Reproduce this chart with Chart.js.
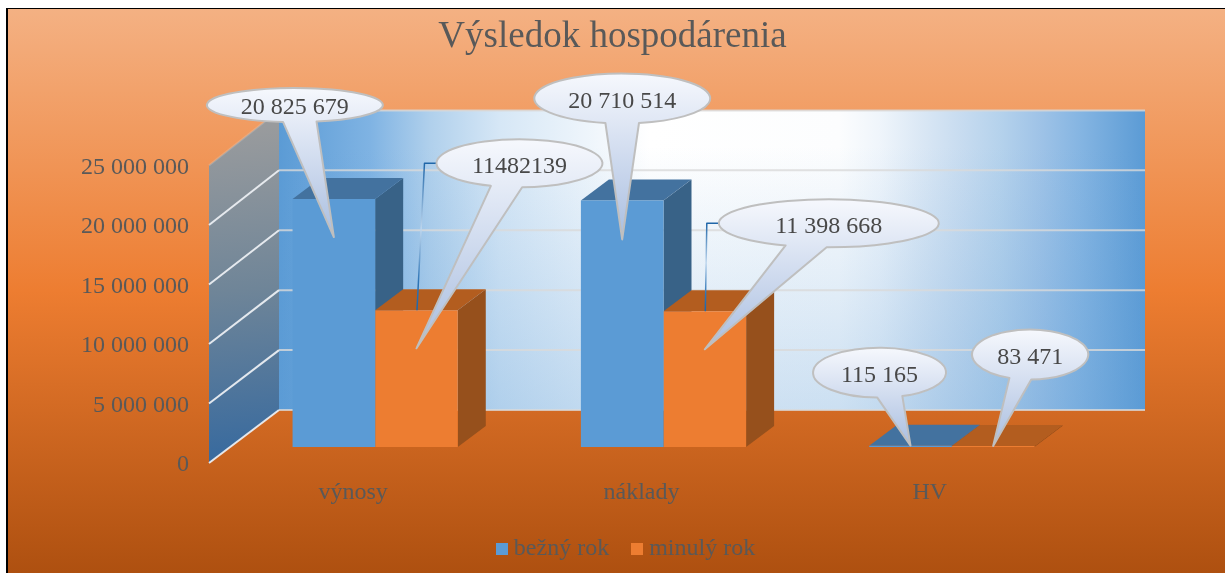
<!DOCTYPE html>
<html lang="sk">
<head>
<meta charset="utf-8">
<title>Výsledok hospodárenia</title>
<style>html,body{margin:0;padding:0;background:#fff;overflow:hidden}canvas{display:block}</style>
<script src="https://cdn.jsdelivr.net/npm/chart.js@4/dist/chart.umd.min.js"></script>
</head>
<body>
<canvas id="c" width="1225" height="573"></canvas>
<script>
const chartTitle = 'Výsledok hospodárenia';
const categories = ['výnosy', 'náklady', 'HV'];
const seriesNames = ['bežný rok', 'minulý rok'];
const bezny = [20825679, 20710514, 115165];
const minuly = [11482139, 11398668, 83471];
const axisMax = 25000000;
const axisStep = 5000000;

/* styling and layout, in pixels */
const serif = '"Liberation Serif", "Times New Roman", serif';
const textGrey = '#595959';
const FRONT = ['#5B9BD5', '#ED7D31'];
const TOP = ['#43729F', '#B35D1F'];
const SIDE = ['#386287', '#96501C'];
const BAR_SHIFT = {x: 22, y: -16};
const BAR_DEPTH = {x: 28, y: -21};
const WALL_DEPTH = {x: 70, y: -53};
const WALL_SCALE = 300 / 298;
const WALL_RIGHT = 1145;
/* callout position relative to the top centre of its bar: one row per series, one cell per category */
const calloutLayout = [
  [{dx: -39, dy: -94, rx: 88, ry: 17, drop: 38}, {dx: 0, dy: -102, rx: 88, ry: 25, drop: 39}, {dx: -31, dy: -73, rx: 66.5, ry: 25, drop: 0}],
  [{dx: 103, dy: -147, rx: 83, ry: 24, drop: 38, leader: true, plain: true}, {dx: 124, dy: -88, rx: 110, ry: 24, drop: 38, leader: true}, {dx: 37, dy: -91.5, rx: 58, ry: 25, drop: 0}]
];

const spaced = v => String(v).replace(/\B(?=(\d{3})+(?!\d))/g, ' ');

function swatch(color) {
  const s = document.createElement('canvas');
  s.width = 12; s.height = 12;
  const g = s.getContext('2d');
  g.fillStyle = color; g.fillRect(0, 0, 12, 12);
  return s;
}

function poly(ctx, pts, fill) {
  ctx.beginPath();
  pts.forEach((p, i) => i ? ctx.lineTo(p[0], p[1]) : ctx.moveTo(p[0], p[1]));
  ctx.closePath();
  ctx.fillStyle = fill;
  ctx.fill();
}

function drawWalls(chart) {
  const {ctx, chartArea: a} = chart;
  const yS = chart.scales.y;
  const L = a.left, dX = WALL_DEPTH.x, dY = WALL_DEPTH.y;
  const y0 = yS.getPixelForValue(0), yT = yS.getPixelForValue(axisMax);
  const bx = L + dX, bot = y0 + dY;
  const backY = y => bot - (y0 - y) * WALL_SCALE;
  const top = backY(yT);

  // back wall
  const w = WALL_RIGHT - bx;
  const h = ctx.createLinearGradient(bx, 0, WALL_RIGHT, 0);
  [[0, '#5B9BD5'], [91, '#7FB3E3'], [151, '#B0D0EC'], [221, '#D6E7F6'], [371, '#FFFFFF'], [560, '#FCFDFE'], [601, '#EFF5FB'], [641, '#DBE8F5'], [681, '#C8DCF0'], [721, '#B5D2EC'], [761, '#9FC3E7'], [801, '#85B5E2'], [866, '#5B9BD5']]
    .forEach(s => h.addColorStop(s[0] / w, s[1]));
  ctx.fillStyle = h;
  ctx.fillRect(bx, top, w, bot - top);
  const v = ctx.createLinearGradient(0, top, 0, bot);
  v.addColorStop(0, 'rgba(91,155,213,0)');
  v.addColorStop(0.12, 'rgba(91,155,213,0)');
  v.addColorStop(1, 'rgba(91,155,213,0.3)');
  ctx.fillStyle = v;
  ctx.fillRect(bx, top, w, bot - top);

  // side wall
  const s = ctx.createLinearGradient(225, 130, 255, 450);
  s.addColorStop(0, '#999B9D');
  s.addColorStop(0.5, '#6F8598');
  s.addColorStop(1, '#3A6B9E');
  poly(ctx, [[L, yT], [bx, top], [bx, bot], [L, y0]], s);

  // gridlines
  yS.ticks.forEach(t => {
    const y = yS.getPixelForValue(t.value);
    const by = backY(y);
    ctx.beginPath();
    ctx.moveTo(bx, by);
    ctx.lineTo(WALL_RIGHT, by);
    ctx.lineWidth = 2;
    ctx.strokeStyle = 'rgba(217,217,217,0.8)';
    ctx.stroke();
    ctx.beginPath();
    ctx.moveTo(L, y);
    ctx.lineTo(bx, by);
    ctx.lineWidth = 2;
    ctx.strokeStyle = t.value === axisMax ? 'rgba(217,217,217,0.25)' : 'rgba(235,238,242,0.95)';
    ctx.stroke();
  });
}

function drawBarFaces(chart) {
  const {ctx} = chart;
  const ox = BAR_SHIFT.x, oy = BAR_SHIFT.y, dx = BAR_DEPTH.x, dy = BAR_DEPTH.y;
  [0, 1].forEach(ds => {
    chart.getDatasetMeta(ds).data.forEach(b => {
      const l = b.x - b.width / 2 + ox, r = b.x + b.width / 2 + ox;
      const t = b.y + oy, base = b.base + oy;
      poly(ctx, [[r, t], [r + dx, t + dy], [r + dx, base + dy], [r, base]], SIDE[ds]);
      poly(ctx, [[l, t], [l + dx, t + dy], [r + dx, t + dy], [r, t]], TOP[ds]);
    });
  });
}

function drawCallout(ctx, bar, c, text) {
  const ax = bar.x + BAR_SHIFT.x, ay = bar.y + BAR_SHIFT.y;
  const cx = ax + c.dx, cy = ay + c.dy;
  const tipX = ax, tipY = ay + c.drop;

  if (c.leader) {
    const elbowX = cx - c.rx - 12;
    const g = ctx.createLinearGradient(0, cy, 0, ay);
    g.addColorStop(0, '#1F66A8');
    g.addColorStop(0.45, '#BFD7EE');
    g.addColorStop(0.8, '#2E75B6');
    g.addColorStop(1, '#1F66A8');
    ctx.beginPath();
    ctx.moveTo(ax + 0.5, ay);
    ctx.lineTo(elbowX, cy);
    ctx.lineTo(cx - c.rx, cy);
    ctx.lineWidth = 1.5;
    ctx.strokeStyle = g;
    ctx.stroke();
  }

  const theta = Math.atan2((tipY - cy) / c.ry, (tipX - cx) / c.rx);
  const spread = 11 * Math.PI / 180;
  ctx.beginPath();
  ctx.ellipse(cx, cy, c.rx, c.ry, 0, theta + spread, theta - spread + Math.PI * 2);
  ctx.lineTo(tipX, tipY);
  ctx.closePath();
  const fill = ctx.createLinearGradient(0, cy - c.ry, 0, tipY);
  fill.addColorStop(0, '#F6F8FD');
  fill.addColorStop(1, '#A9BEE0');
  ctx.fillStyle = fill;
  ctx.fill();
  ctx.lineWidth = 2;
  ctx.lineJoin = 'round';
  ctx.strokeStyle = '#BFBFBF';
  ctx.stroke();

  ctx.fillStyle = '#484848';
  ctx.font = '24px ' + serif;
  ctx.textAlign = 'center';
  ctx.textBaseline = 'middle';
  ctx.fillText(text, cx, cy + 3);
}

const scene = {
  id: 'scene',
  afterLayout(chart) {
    const t = chart.titleBlock, l = chart.legend;
    t.left = 0; t.right = 1225;
    l.left = 16; l.right = 1225 + 16;
    l.top = 509;
    chart.scales.x.bottom = 530;
  },
  beforeDraw(chart) {
    const {ctx, width, height} = chart;
    ctx.save();
    ctx.fillStyle = '#FFFFFF';
    ctx.fillRect(0, 0, width, height);
    const g = ctx.createLinearGradient(0, 9, 0, height);
    g.addColorStop(0, '#F4B183');
    g.addColorStop(0.5, '#ED7D31');
    g.addColorStop(1, '#AE5010');
    ctx.fillStyle = g;
    ctx.fillRect(8, 9, width - 8, height - 9);
    ctx.fillStyle = '#000000';
    ctx.fillRect(6, 8, width - 6, 1);
    ctx.fillRect(6, 8, 2, height - 8);
    ctx.restore();
  },
  beforeDatasetsDraw(chart) {
    const {ctx} = chart;
    drawWalls(chart);
    drawBarFaces(chart);
    ctx.save();
    ctx.translate(BAR_SHIFT.x, BAR_SHIFT.y);
  },
  afterDatasetsDraw(chart) {
    const {ctx} = chart;
    ctx.restore();
    ctx.save();
    [bezny, minuly].forEach((vals, ds) => {
      chart.getDatasetMeta(ds).data.forEach((bar, i) => {
        const c = calloutLayout[ds][i];
        drawCallout(ctx, bar, c, c.plain ? String(vals[i]) : spaced(vals[i]));
      });
    });
    ctx.restore();
  }
};

new Chart(document.getElementById('c'), {
  type: 'bar',
  data: {
    labels: categories,
    datasets: [
      {label: seriesNames[0], data: bezny, backgroundColor: FRONT[0], borderWidth: 0, clip: false},
      {label: seriesNames[1], data: minuly, backgroundColor: FRONT[1], borderWidth: 0, clip: false}
    ]
  },
  options: {
    responsive: false,
    animation: false,
    devicePixelRatio: 1,
    events: [],
    layout: {padding: {left: 0, right: 151, top: 0, bottom: 0}},
    datasets: {bar: {categoryPercentage: 0.573, barPercentage: 1}},
    scales: {
      x: {
        grid: {display: false},
        border: {display: false},
        ticks: {
          color: textGrey,
          font: {family: serif, size: 24},
          padding: 7,
          maxRotation: 0,
          autoSkip: false
        },
        afterFit(s) { s.height = 573 - 463 - s.chart.legend.height; }
      },
      y: {
        min: 0,
        max: axisMax,
        grid: {display: false, drawTicks: false},
        border: {display: false},
        ticks: {
          stepSize: axisStep,
          color: textGrey,
          font: {family: serif, size: 24},
          padding: 20,
          labelOffset: 2,
          callback: v => spaced(v)
        },
        afterFit(s) { s.width = 209; }
      }
    },
    plugins: {
      tooltip: {enabled: false},
      title: {
        display: true,
        text: chartTitle,
        color: textGrey,
        font: {family: serif, size: 37, weight: 'normal'},
        padding: {top: 15, bottom: 106}
      },
      legend: {
        position: 'bottom',
        labels: {
          color: textGrey,
          font: {family: serif, size: 24},
          usePointStyle: true,
          boxWidth: 0.01,
          boxHeight: 12,
          padding: 28,
          generateLabels(chart) {
            return Chart.defaults.plugins.legend.labels.generateLabels(chart)
              .sort((a, b) => a.datasetIndex - b.datasetIndex)
              .map(it => Object.assign(it, {pointStyle: swatch(FRONT[it.datasetIndex])}));
          }
        }
      }
    }
  },
  plugins: [scene]
});
</script>
</body>
</html>
